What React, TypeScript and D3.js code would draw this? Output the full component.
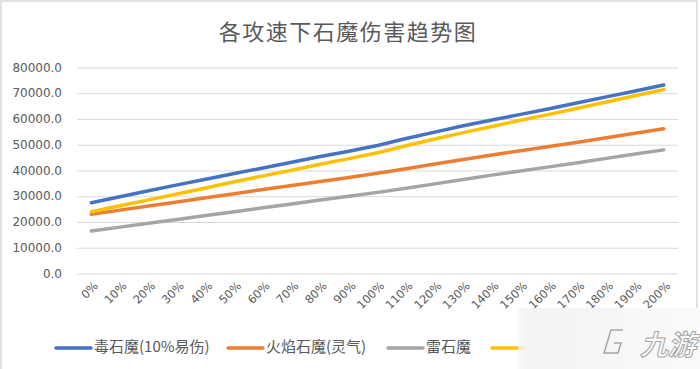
import * as d3 from "d3";

const categories = [
  "0%", "10%", "20%", "30%", "40%", "50%", "60%", "70%", "80%", "90%", "100%",
  "110%", "120%", "130%", "140%", "150%", "160%", "170%", "180%", "190%", "200%",
];

const duSeries = [
  27700, 30000, 32300, 34600, 36800, 39000, 41200, 43400, 45600, 47700, 49900,
  52600, 55100, 57600, 59800, 62000, 64200, 66500, 68800, 71100, 73400,
];
const huoSeries = [
  23200, 24800, 26400, 28000, 29600, 31200, 32800, 34400, 35900, 37500, 39100,
  40900, 42700, 44500, 46200, 47900, 49500, 51200, 52900, 54700, 56400,
];
const leiSeries = [
  16700, 18200, 19700, 21200, 22700, 24200, 25700, 27200, 28700, 30200, 31700,
  33300, 35000, 36700, 38400, 40000, 41600, 43200, 44900, 46600, 48200,
];
const yellowSeries = [
  24200, 26500, 28800, 31100, 33400, 35800, 38100, 40300, 42600, 44800, 47100,
  49800, 52400, 54900, 57300, 59700, 62000, 64400, 66800, 69200, 71600,
];

const seriesNames = ["毒石魔(10%易伤)", "火焰石魔(灵气)", "雷石魔", "毒石魔"];
const seriesColors = ["#4472c4", "#ed7d31", "#a5a5a5", "#ffc000"];
const yTicks = [0, 10000, 20000, 30000, 40000, 50000, 60000, 70000, 80000];

const title = "各攻速下石魔伤害趋势图";
const font = "'Noto Sans CJK SC', 'Noto Sans', sans-serif";
const numFont = "'DejaVu Sans', sans-serif";

export default function App() {
  const width = 700;
  const height = 369;
  const left = 77;
  const right = 678;
  const top = 68;
  const bottom = 274;

  const x = d3.scalePoint<string>().domain(categories).range([left, right]).padding(0.5);
  const y = d3.scaleLinear().domain([0, 80000]).range([bottom, top]);

  const series = [duSeries, huoSeries, leiSeries, yellowSeries];
  const line = d3
    .line<number>()
    .x((_, i) => x(categories[i]) as number)
    .y((d) => y(d));

  const legendX = [56, 228, 388, 492];

  return (
    <svg
      width={width}
      height={height}
      style={{ position: "absolute", left: 0, top: 0, background: "#fff" }}
    >
      <defs>
        <linearGradient id="wm" x1="0" x2="1" y1="0" y2="0">
          <stop offset="0" stopColor="#f6f6f6" stopOpacity={0.7} />
          <stop offset="0.06" stopColor="#f3f3f3" stopOpacity={1} />
          <stop offset="1" stopColor="#fafafa" stopOpacity={1} />
        </linearGradient>
      </defs>
      <rect x={1} y={1} width={696} height={372} fill="#fff" stroke="#d9d9d9" strokeWidth={1.5} />

      <text
        x={348}
        y={40}
        textAnchor="middle"
        fontFamily={font}
        fontSize={22}
        letterSpacing={1.5}
        fill="#595959"
      >
        {title}
      </text>

      {/* grid + y labels */}
      <g>
        {yTicks.map((t) => (
          <g key={t}>
            <line x1={left} x2={right} y1={y(t)} y2={y(t)} stroke="#d9d9d9" strokeWidth={1} />
            <text
              x={62}
              y={y(t)}
              textAnchor="end"
              dominantBaseline="middle"
              fontFamily={numFont}
              fontSize={12}
              fill="#595959"
            >
              {t.toFixed(1)}
            </text>
          </g>
        ))}
      </g>

      {/* x labels */}
      <g>
        {categories.map((c) => (
          <text
            key={c}
            transform={`translate(${(x(c) as number) + 5},${284}) rotate(-45)`}
            textAnchor="end"
            dominantBaseline="middle"
            fontFamily={numFont}
            fontSize={11.5}
            fill="#595959"
          >
            {c}
          </text>
        ))}
      </g>

      {/* lines */}
      <g fill="none" strokeWidth={3.5} strokeLinecap="round" strokeLinejoin="round">
        {series.map((s, i) => (
          <path key={i} d={line(s) ?? ""} stroke={seriesColors[i]} />
        ))}
      </g>

      {/* legend */}
      <g>
        {seriesNames.map((n, i) => (
          <g key={n + i} transform={`translate(${legendX[i]},348)`}>
            <line x1={0} x2={35} y1={0} y2={0} stroke={seriesColors[i]} strokeWidth={3.5} strokeLinecap="round" />
            <text
              x={38}
              y={0}
              dominantBaseline="middle"
              fontFamily={font}
              fontSize={15}
              fill="#595959"
            >
              {n}
            </text>
          </g>
        ))}
      </g>

      {/* watermark */}
      <g>
        <rect x={518} y={308} width={182} height={61} fill="url(#wm)" />
        <text
          x={640}
          y={355}
          fontFamily={font}
          fontSize={28}
          fontStyle="italic"
          fontWeight={700}
          fill="#fbfbfb"
          stroke="#a6a6a6"
          strokeWidth={1}
        >
          九游
        </text>
        <path
          d="M 623 330 L 611 330 L 604 353 L 618 353 L 621 343 L 614 343"
          fill="none"
          stroke="#a6a6a6"
          strokeWidth={1.5}
        />
      </g>
    </svg>
  );
}
